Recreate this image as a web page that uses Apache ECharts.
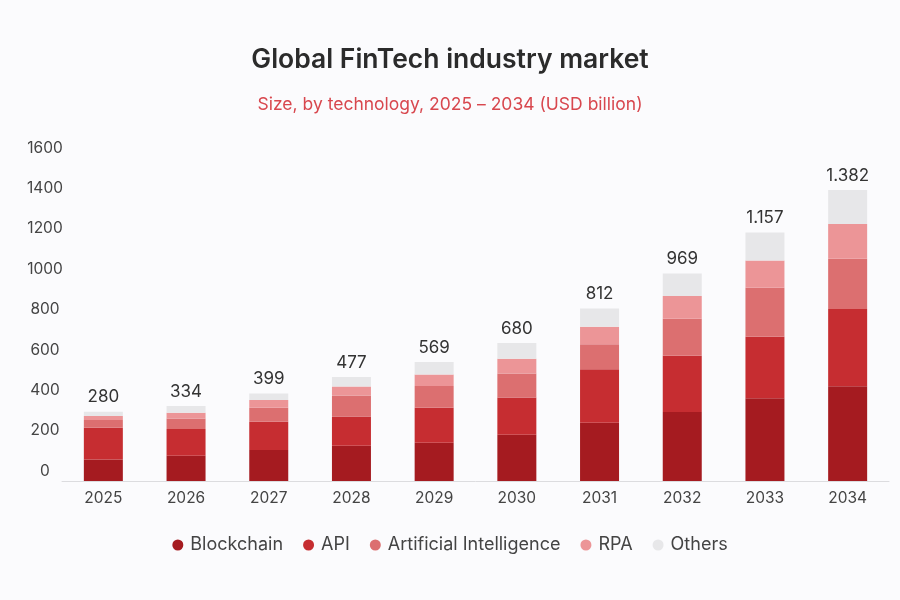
<!DOCTYPE html>
<html>
<head>
    <meta charset="utf-8">
    <script src="https://cdn.jsdelivr.net/npm/echarts@6/dist/echarts.min.js"></script>
    <style>
        html, body { margin: 0; padding: 0; background: #fbfbfd; }
    </style>
</head>
<body>
<div id="main" style="width: 900px;height:600px;"></div>
<script type="text/javascript">
    // data (USD billion)
    var years = ['2025', '2026', '2027', '2028', '2029', '2030', '2031', '2032', '2033', '2034'];
    var blockchain = [107, 125, 154, 175, 190, 229, 289, 342, 410, 469];
    var api        = [157, 132, 140, 144, 173, 185, 264, 279, 304, 383];
    var ai         = [38, 53, 69, 104, 107, 119, 125, 183, 243, 249];
    var rpa        = [20, 28, 38, 45, 58, 72, 86, 112, 135, 172];
    var others     = [21, 33, 33, 47, 62, 79, 91, 112, 139, 168];
    // printed totals above the bars
    var totalLabels = ['280', '334', '399', '477', '569', '680', '812', '969', '1.157', '1.382'];

    var names = ['Blockchain', 'API', 'Artificial Intelligence', 'RPA', 'Others'];
    var colors = ['#a51b20', '#c62d31', '#dc6f70', '#ec9597', '#e7e7e9'];
    var values = [blockchain, api, ai, rpa, others];

    var myChart = echarts.init(document.getElementById('main'));

    var series = names.map(function (n, i) {
        var s = {
            name: n,
            type: 'bar',
            stack: 'total',
            barWidth: 39,
            data: values[i],
            itemStyle: { color: colors[i] },
            emphasis: { disabled: true }
        };
        // totals sit on top of the last stack
        if (i === names.length - 1) {
            s.label = {
                show: true,
                position: 'top',
                distance: 6,
                color: '#333',
                fontSize: 17,
                fontFamily: 'Inter',
                formatter: function (p) { return totalLabels[p.dataIndex]; }
            };
        }
        return s;
    });

    var option = {
        backgroundColor: '#fbfbfd',
        color: colors,
        title: [{
            text: 'Global FinTech industry market',
            left: 'center',
            top: 42,
            textStyle: { fontFamily: 'Inter', fontSize: 26.5, fontWeight: 600, color: '#2b2b2b' }
        }, {
            text: 'Size, by technology, 2025 – 2034 (USD billion)',
            left: 'center',
            top: 91,
            textStyle: { fontFamily: 'Inter', fontSize: 17.5, fontWeight: 'normal', color: '#d8474e' }
        }],
        legend: {
            data: names,
            top: 531,
            left: 'center',
            icon: 'circle',
            itemWidth: 11,
            itemHeight: 11,
            itemGap: 20,
            textStyle: { fontFamily: 'Inter', fontSize: 18, color: '#444', padding: [0, 0, 0, 2] }
        },
        grid: { left: 62, right: 11, top: 158, bottom: 119 },
        xAxis: {
            type: 'category',
            data: years,
            axisLine: { lineStyle: { color: '#dcdcdf' } },
            axisTick: { show: false },
            axisLabel: { fontFamily: 'Inter', fontSize: 15.5, color: '#444', margin: 9 }
        },
        yAxis: {
            type: 'value',
            min: 0,
            max: 1600,
            interval: 200,
            splitLine: { show: false },
            axisLabel: {
                fontFamily: 'Inter',
                fontSize: 15.5,
                color: '#444',
                align: 'center',
                margin: 17,
                verticalAlign: 'bottom',
                padding: [0, 0, 2, 0],
                formatter: function (v) { return String(v); }
            }
        },
        series: series
    };

    myChart.setOption(option);
</script>
</body>
</html>
